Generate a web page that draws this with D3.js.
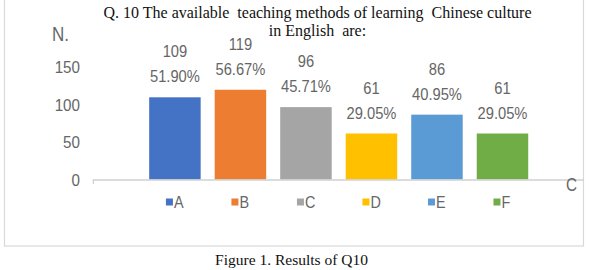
<!DOCTYPE html>
<html lang="en">
<head>
<meta charset="utf-8">
<title>Results of Q10</title>
<script src="https://d3js.org/d3.v7.min.js"></script>
<style>
body { margin: 0; background: #fff; }
text { white-space: pre; }
</style>
</head>
<body>
<script type="text/javascript">
var w = 589;
var h = 270;

// data
var categories = ["A", "B", "C", "D", "E", "F"];
var counts = [109, 119, 96, 61, 86, 61];
var percents = ["51.90%", "56.67%", "45.71%", "29.05%", "40.95%", "29.05%"];
var yTicks = [0, 50, 100, 150];
var colors = ["#4472C4", "#ED7D31", "#A5A5A5", "#FFC000", "#5B9BD5", "#70AD47"];

var titleLines = ["Q. 10 The available  teaching methods of learning  Chinese culture", "in English  are:"];
var caption = "Figure 1. Results of Q10";

var labelFont = "'Liberation Sans', Arial, sans-serif";
var serif = "'Liberation Serif', 'Times New Roman', serif";
var grey = "#666";

var svg = d3.select("body")
  .append("svg")
  .attr("width", w)
  .attr("height", h);

// chart frame
svg.append("rect")
  .attr("x", 4.5).attr("y", -5)
  .attr("width", 579).attr("height", 251)
  .attr("fill", "none")
  .attr("stroke", "#d9d9d9")
  .attr("stroke-width", 1.2);

var xScale = d3.scaleBand()
  .domain(categories)
  .range([92.7, 584.7])
  .paddingInner(0.214)
  .paddingOuter(0.862);

var yScale = d3.scaleLinear()
  .domain([0, 150])
  .range([179.5, 66.4]);

function midX(c) { return xScale(c) + xScale.bandwidth() / 2; }

// title
svg.selectAll("text.title")
  .data(titleLines)
  .enter()
  .append("text")
  .attr("class", "title")
  .attr("x", 317.5)
  .attr("y", function(d, i) { return 18 + i * 18; })
  .attr("text-anchor", "middle")
  .attr("font-family", serif)
  .attr("font-size", "16px")
  .attr("fill", "#111")
  .text(function(d) { return d; });

// y axis labels
svg.selectAll("text.ytick")
  .data(yTicks)
  .enter()
  .append("text")
  .attr("class", "ytick")
  .attr("transform", function(d) { return "translate(80," + (yScale(d) + 6.5) + ") scale(0.95,1)"; })
  .attr("text-anchor", "end")
  .attr("font-family", labelFont)
  .attr("font-size", "16px")
  .attr("fill", grey)
  .text(function(d) { return d; });

svg.append("text")
  .attr("transform", "translate(52,41) scale(0.85,1)")
  .attr("font-family", labelFont)
  .attr("font-size", "20px")
  .attr("fill", grey)
  .text("N.");

// bars
svg.selectAll("rect.bar")
  .data(counts)
  .enter()
  .append("rect")
  .attr("class", "bar")
  .attr("x", function(d, i) { return xScale(categories[i]); })
  .attr("y", function(d) { return yScale(d); })
  .attr("width", xScale.bandwidth())
  .attr("height", function(d) { return yScale(0) - yScale(d); })
  .attr("fill", function(d, i) { return colors[i]; });

// x axis line
svg.append("line")
  .attr("x1", 92.7).attr("x2", 584)
  .attr("y1", 180).attr("y2", 180)
  .attr("stroke", "#d0d0d0")
  .attr("stroke-width", 1.5);
svg.append("line")
  .attr("x1", 93.4).attr("x2", 93.4)
  .attr("y1", 180).attr("y2", 184)
  .attr("stroke", "#d0d0d0")
  .attr("stroke-width", 1.3);

svg.append("text")
  .attr("transform", "translate(566,190.5) scale(0.8,1)")
  .attr("font-family", labelFont)
  .attr("font-size", "19px")
  .attr("fill", grey)
  .text("C");

// value labels
svg.selectAll("text.count")
  .data(counts)
  .enter()
  .append("text")
  .attr("class", "count")
  .attr("transform", function(d, i) {
    return "translate(" + midX(categories[i]) + "," + (yScale(d) - 40) + ") scale(0.92,1)";
  })
  .attr("text-anchor", "middle")
  .attr("font-family", labelFont)
  .attr("font-size", "16px")
  .attr("fill", grey)
  .text(function(d) { return d; });

svg.selectAll("text.pct")
  .data(percents)
  .enter()
  .append("text")
  .attr("class", "pct")
  .attr("transform", function(d, i) {
    return "translate(" + midX(categories[i]) + "," + (yScale(counts[i]) - 15) + ") scale(0.92,1)";
  })
  .attr("text-anchor", "middle")
  .attr("font-family", labelFont)
  .attr("font-size", "16px")
  .attr("fill", grey)
  .text(function(d) { return d; });

// legend
var legend = svg.selectAll("g.legend")
  .data(categories)
  .enter()
  .append("g")
  .attr("class", "legend")
  .attr("transform", function(d) {
    return "translate(" + (midX(d) - 9) + ",202)";
  });

legend.append("rect")
  .attr("x", 0).attr("y", -3.5)
  .attr("width", 7).attr("height", 7)
  .attr("fill", function(d, i) { return colors[i]; });

legend.append("text")
  .attr("transform", "translate(8,6) scale(0.9,1)")
  .attr("font-family", labelFont)
  .attr("font-size", "16px")
  .attr("fill", grey)
  .text(function(d) { return d; });

// caption
svg.append("text")
  .attr("x", 291.5).attr("y", 265)
  .attr("text-anchor", "middle")
  .attr("font-family", serif)
  .attr("font-size", "15.5px")
  .attr("fill", "#111")
  .text(caption);
</script>
</body>
</html>
